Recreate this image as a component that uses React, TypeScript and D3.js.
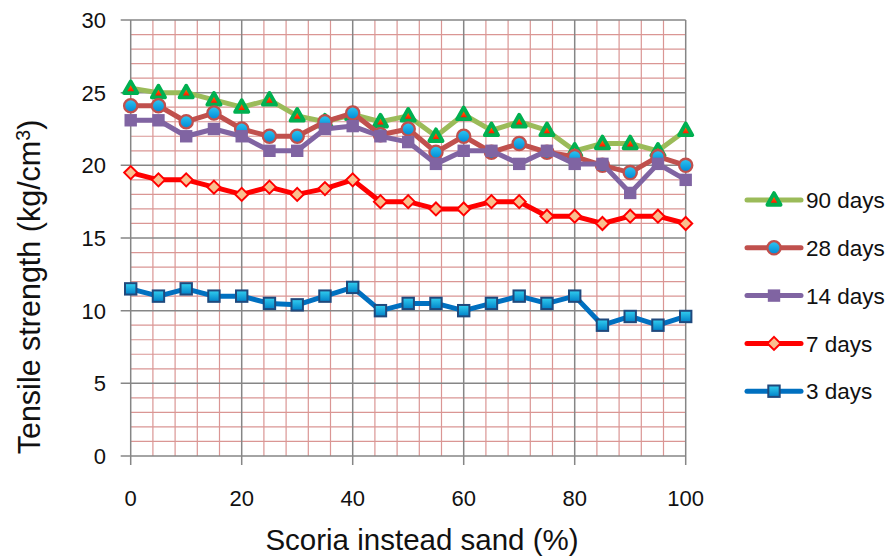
import React from 'react';
import * as d3 from 'd3';

// Scoria replacement level (% of sand)
const scoriaPercent = [0, 5, 10, 15, 20, 25, 30, 35, 40, 45, 50, 55, 60, 65, 70, 75, 80, 85, 90, 95, 100];

// Tensile strength (kg/cm3) by curing age
const days90 = [25.3, 25.0, 25.0, 24.5, 24.0, 24.5, 23.4, 23.0, 23.5, 23.0, 23.4, 22.0, 23.5, 22.4, 23.0, 22.4, 21.0, 21.5, 21.5, 21.0, 22.4];
const days28 = [24.1, 24.1, 23.0, 23.6, 22.5, 22.0, 22.0, 23.0, 23.6, 22.1, 22.5, 20.9, 22.0, 20.9, 21.5, 20.9, 20.6, 20.0, 19.5, 20.6, 20.0];
const days14 = [23.1, 23.1, 22.0, 22.5, 22.0, 21.0, 21.0, 22.5, 22.7, 22.0, 21.6, 20.1, 21.0, 21.0, 20.1, 21.0, 20.1, 20.1, 18.1, 20.1, 19.0];
const days7 = [19.5, 19.0, 19.0, 18.5, 18.0, 18.5, 18.0, 18.4, 19.0, 17.5, 17.5, 17.0, 17.0, 17.5, 17.5, 16.5, 16.5, 16.0, 16.5, 16.5, 16.0];
const days3 = [11.5, 11.0, 11.5, 11.0, 11.0, 10.5, 10.4, 11.0, 11.6, 10.0, 10.5, 10.5, 10.0, 10.5, 11.0, 10.5, 11.0, 9.0, 9.6, 9.0, 9.6];

const seriesLabels = ['90 days', '28 days', '14 days', '7 days', '3 days'];
const xTicks = [0, 20, 40, 60, 80, 100];
const yTicks = [0, 5, 10, 15, 20, 25, 30];

const xTitle = 'Scoria instead sand (%)';

type MarkerKind = 'triangle' | 'circle' | 'square' | 'diamond' | 'bluesquare';

interface Series {
  label: string;
  values: number[];
  color: string;
  marker: MarkerKind;
}

const series: Series[] = [
  { label: seriesLabels[0], values: days90, color: '#9BBB59', marker: 'triangle' },
  { label: seriesLabels[1], values: days28, color: '#C0504D', marker: 'circle' },
  { label: seriesLabels[2], values: days14, color: '#8064A2', marker: 'square' },
  { label: seriesLabels[3], values: days7, color: '#FF0000', marker: 'diamond' },
  { label: seriesLabels[4], values: days3, color: '#0070C0', marker: 'bluesquare' },
];

const W = 887;
const H = 556;
const plot = { left: 130.7, right: 685.7, top: 20, bottom: 456 };

const x = d3.scaleLinear().domain([0, 100]).range([plot.left, plot.right]);
const y = d3.scaleLinear().domain([0, 30]).range([plot.bottom, plot.top]);

const axisFont = '"Liberation Sans", Arial, sans-serif';

function Marker({ kind, cx, cy }: { kind: MarkerKind; cx: number; cy: number }) {
  switch (kind) {
    case 'triangle': {
      const s = 6.6;
      const pts = `${cx},${cy - s * 1.05} ${cx + s},${cy + s * 0.72} ${cx - s},${cy + s * 0.72}`;
      return (
        <polygon points={pts} fill="url(#gradTri)" stroke="#00B050" strokeWidth={3.8} strokeLinejoin="round" />
      );
    }
    case 'circle':
      return <circle cx={cx} cy={cy} r={6.6} fill="url(#gradCircle)" stroke="#C0504D" strokeWidth={2.3} />;
    case 'square':
      return <rect x={cx - 6.2} y={cy - 6.2} width={12.4} height={12.4} fill="#8064A2" />;
    case 'diamond': {
      const s = 6.5;
      const pts = `${cx},${cy - s} ${cx + s},${cy} ${cx},${cy + s} ${cx - s},${cy}`;
      return <polygon points={pts} fill="#FABF8F" stroke="#FF0000" strokeWidth={2} />;
    }
    case 'bluesquare':
      return (
        <rect x={cx - 5.7} y={cy - 5.7} width={11.4} height={11.4} fill="url(#gradSquare)" stroke="#1F497D" strokeWidth={2} />
      );
  }
}

export default function App() {
  const minorX = d3.range(0, 101, 4).filter((v) => v % 20 !== 0);
  const minorY = d3.range(0, 31, 1).filter((v) => v % 5 !== 0);

  const line = d3
    .line<number>()
    .x((_, i) => x(scoriaPercent[i]))
    .y((d) => y(d));

  const legendTop = 200;
  const legendStep = 47.8;
  const legendX0 = 747;
  const legendX1 = 801;

  return (
    <div style={{ position: 'absolute', left: 0, top: 0 }}>
      <svg width={W} height={H} style={{ display: 'block', background: '#fff' }}>
        <defs>
          <linearGradient id="gradTri" x1="0" y1="0" x2="0" y2="1">
            <stop offset="0" stopColor="#FF9900" />
            <stop offset="1" stopColor="#FF0000" />
          </linearGradient>
          <linearGradient id="gradCircle" x1="0" y1="0" x2="0" y2="1">
            <stop offset="0" stopColor="#2FC7F2" />
            <stop offset="1" stopColor="#0088D4" />
          </linearGradient>
          <linearGradient id="gradSquare" x1="0" y1="0" x2="0" y2="1">
            <stop offset="0" stopColor="#33D0F0" />
            <stop offset="1" stopColor="#0080C8" />
          </linearGradient>
        </defs>

        {/* minor gridlines */}
        <g stroke="#DA9694" strokeWidth={1.2}>
          {minorX.map((v) => (
            <line key={`mx${v}`} x1={x(v)} x2={x(v)} y1={plot.top} y2={plot.bottom} />
          ))}
          {minorY.map((v) => (
            <line key={`my${v}`} x1={plot.left} x2={plot.right} y1={y(v)} y2={y(v)} />
          ))}
        </g>

        {/* major gridlines and tick marks */}
        <g stroke="#868686" strokeWidth={1.5}>
          {xTicks.map((v) => (
            <line key={`gx${v}`} x1={x(v)} x2={x(v)} y1={plot.top} y2={plot.bottom + 9} />
          ))}
          {yTicks.map((v) => (
            <line key={`gy${v}`} x1={plot.left - 10} x2={plot.right} y1={y(v)} y2={y(v)} />
          ))}
        </g>

        {/* tick labels */}
        <g fontFamily={axisFont} fontSize={22} fill="#111">
          {yTicks.map((v) => (
            <text key={`ty${v}`} x={106} y={y(v)} dy="0.36em" textAnchor="end">
              {v}
            </text>
          ))}
          {xTicks.map((v) => (
            <text key={`tx${v}`} x={x(v)} y={506} textAnchor="middle">
              {v}
            </text>
          ))}
        </g>

        {/* axis titles */}
        <text x={422} y={550} textAnchor="middle" fontFamily={axisFont} fontSize={29.5} fill="#111">
          {xTitle}
        </text>
        <text
          transform={`translate(40,287) rotate(-90)`}
          textAnchor="middle"
          fontFamily={axisFont}
          fontSize={30.5}
          fill="#111"
        >
          Tensile strength (kg/cm<tspan dy="-10" fontSize={19.5}>3</tspan>
          <tspan dy="10">)</tspan>
        </text>

        {/* series */}
        {series.map((s) => (
          <g key={s.label}>
            <path d={line(s.values) || ''} fill="none" stroke={s.color} strokeWidth={5} strokeLinejoin="round" />
            {s.values.map((v, i) => (
              <Marker key={i} kind={s.marker} cx={x(scoriaPercent[i])} cy={y(v)} />
            ))}
          </g>
        ))}

        {/* legend */}
        {series.map((s, i) => {
          const ly = legendTop + i * legendStep;
          return (
            <g key={`lg${s.label}`}>
              <line x1={legendX0} x2={legendX1} y1={ly} y2={ly} stroke={s.color} strokeWidth={5} strokeLinecap="round" />
              <Marker kind={s.marker} cx={(legendX0 + legendX1) / 2} cy={ly} />
              <text x={806} y={ly} dy="0.36em" fontFamily={axisFont} fontSize={22.5} fill="#111">
                {s.label}
              </text>
            </g>
          );
        })}
      </svg>
    </div>
  );
}
